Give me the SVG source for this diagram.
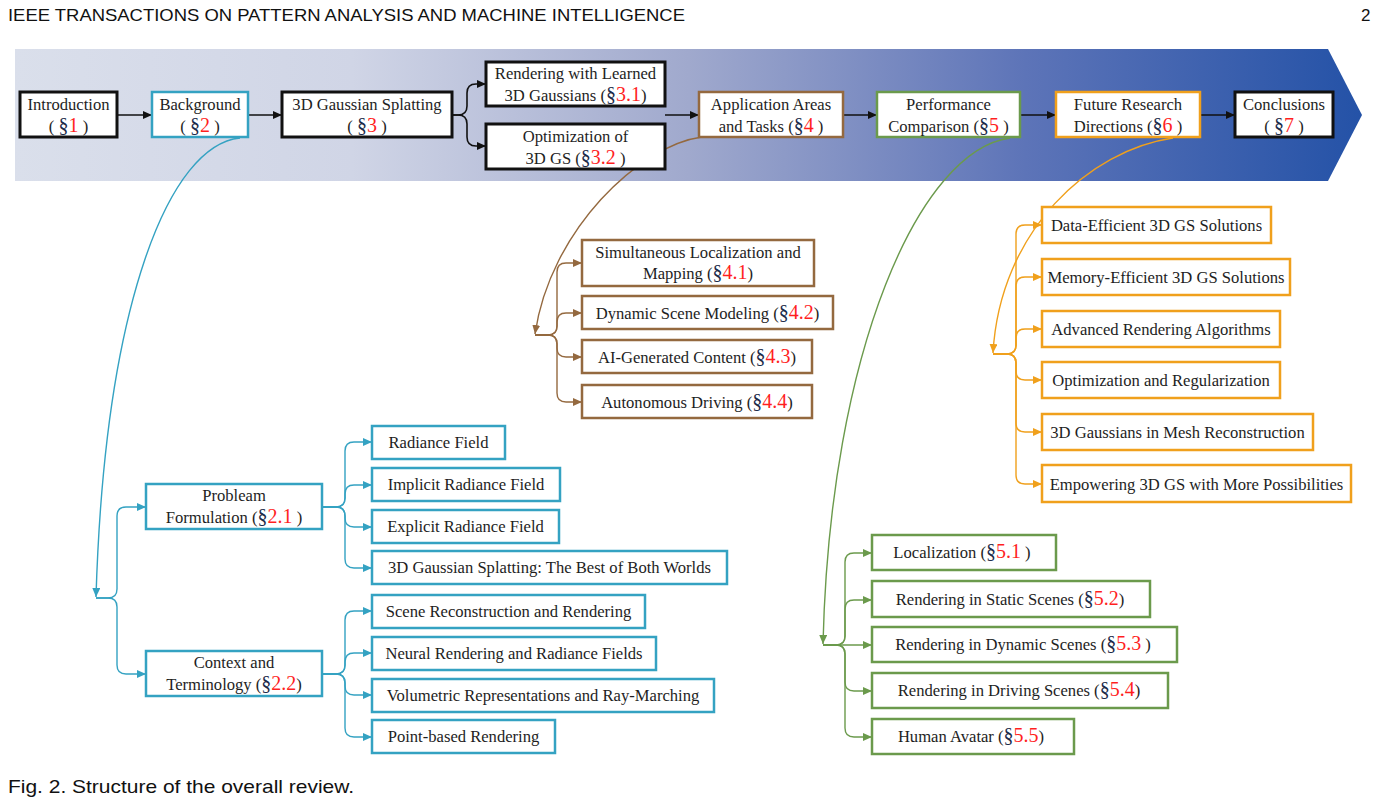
<svg xmlns="http://www.w3.org/2000/svg" width="1379" height="810" viewBox="0 0 1379 810">
<style>
.hd{font-family:"Liberation Sans",Arial,sans-serif;font-size:17px;fill:#111}
.t{font-family:"Liberation Serif","Times New Roman",serif;font-size:16.6px;fill:#1e1e1e;text-anchor:middle}
.s{font-size:20px;fill:#1c2b4a}
.n{font-size:20px;fill:#ff1f1f}
.bk{fill:#fff;stroke:#111;stroke-width:3}
.tl{fill:#fff;stroke:#34a2c2;stroke-width:2.5}
.brb{fill:#fff;stroke:#94693f;stroke-width:2.5}
.grb{fill:#fff;stroke:#6b9a4c;stroke-width:2.5}
.orb{fill:#fff;stroke:#f0a01c;stroke-width:2.5}
.c{fill:none;stroke-width:1.4}
.ck{stroke:#111;stroke-width:1.6}
.ctl{stroke:#34a2c2}
.cbr{stroke:#94693f}
.cgr{stroke:#6b9a4c}
.cor{stroke:#f0a01c}
</style>
<defs>
<linearGradient id="bg" gradientUnits="userSpaceOnUse" x1="15" y1="0" x2="1362" y2="0">
<stop offset="0" stop-color="#dadfeb"/>
<stop offset="0.25" stop-color="#d0d5e6"/>
<stop offset="0.5" stop-color="#a0a9cd"/>
<stop offset="0.75" stop-color="#5d74b8"/>
<stop offset="1" stop-color="#2452a7"/>
</linearGradient>
<marker id="ak" markerUnits="userSpaceOnUse" markerWidth="10" markerHeight="9" refX="9" refY="4" orient="auto"><path d="M0,0 L9,4 L0,8 z" fill="#111"/></marker>
<marker id="atl" markerUnits="userSpaceOnUse" markerWidth="10" markerHeight="9" refX="9" refY="4" orient="auto"><path d="M0,0 L9,4 L0,8 z" fill="#34a2c2"/></marker>
<marker id="abr" markerUnits="userSpaceOnUse" markerWidth="10" markerHeight="9" refX="9" refY="4" orient="auto"><path d="M0,0 L9,4 L0,8 z" fill="#94693f"/></marker>
<marker id="agr" markerUnits="userSpaceOnUse" markerWidth="10" markerHeight="9" refX="9" refY="4" orient="auto"><path d="M0,0 L9,4 L0,8 z" fill="#6b9a4c"/></marker>
<marker id="aor" markerUnits="userSpaceOnUse" markerWidth="10" markerHeight="9" refX="9" refY="4" orient="auto"><path d="M0,0 L9,4 L0,8 z" fill="#f0a01c"/></marker>
</defs>
<rect x="0" y="0" width="1379" height="810" fill="#fff"/>
<text class="hd" x="8" y="21" textLength="677" lengthAdjust="spacingAndGlyphs">IEEE TRANSACTIONS ON PATTERN ANALYSIS AND MACHINE INTELLIGENCE</text>
<text class="hd" x="1361" y="21">2</text>
<path id="banner" d="M15,49 H1328 L1362,115 L1328,181 H15 Z" fill="url(#bg)"/>

<g id="connectors">
<path class="c ck" d="M117,115 H152" marker-end="url(#ak)"/>
<path class="c ck" d="M248,115 H282" marker-end="url(#ak)"/>
<path class="c ck" d="M452,115 H458 Q467,115 467,106 V93 Q467,84 476,84 H486" marker-end="url(#ak)"/>
<path class="c ck" d="M452,115 H458 Q467,115 467,124 V137 Q467,146 476,146 H486" marker-end="url(#ak)"/>
<path class="c ck" d="M665,115 H699" marker-end="url(#ak)"/>
<path class="c ck" d="M843,115 H877" marker-end="url(#ak)"/>
<path class="c ck" d="M1020,115 H1056" marker-end="url(#ak)"/>
<path class="c ck" d="M1200,115 H1235" marker-end="url(#ak)"/>

<path class="c ctl" d="M240,138 C170,145 105,300 96,597" marker-end="url(#atl)"/>
<path class="c ctl" d="M96,598 H108 Q117,598 117,589 V516 Q117,507 126,507 H146" marker-end="url(#atl)"/>
<path class="c ctl" d="M96,598 H108 Q117,598 117,607 V665 Q117,674 126,674 H146" marker-end="url(#atl)"/>
<path class="c ctl" d="M322,507 H336 Q345,507 345,498 V451 Q345,442 354,442 H372" marker-end="url(#atl)"/>
<path class="c ctl" d="M322,507 H336 Q345,507 345,498 V494 Q345,485 354,485 H372" marker-end="url(#atl)"/>
<path class="c ctl" d="M322,507 H336 Q345,507 345,516 V518 Q345,527 354,527 H372" marker-end="url(#atl)"/>
<path class="c ctl" d="M322,507 H336 Q345,507 345,516 V559 Q345,568 354,568 H372" marker-end="url(#atl)"/>
<path class="c ctl" d="M322,674 H336 Q345,674 345,665 V620 Q345,611 354,611 H372" marker-end="url(#atl)"/>
<path class="c ctl" d="M322,674 H336 Q345,674 345,665 V662 Q345,653 354,653 H372" marker-end="url(#atl)"/>
<path class="c ctl" d="M322,674 H336 Q345,674 345,683 V686 Q345,695 354,695 H372" marker-end="url(#atl)"/>
<path class="c ctl" d="M322,674 H336 Q345,674 345,683 V728 Q345,737 354,737 H372" marker-end="url(#atl)"/>

<path class="c cbr" d="M702,137 C640,145 550,230 535,334" marker-end="url(#abr)"/>
<path class="c cbr" d="M535,335 H548 Q557,335 557,326 V272 Q557,263 566,263 H582" marker-end="url(#abr)"/>
<path class="c cbr" d="M535,335 H548 Q557,335 557,326 V322 Q557,313 566,313 H582" marker-end="url(#abr)"/>
<path class="c cbr" d="M535,335 H548 Q557,335 557,344 V348 Q557,357 566,357 H582" marker-end="url(#abr)"/>
<path class="c cbr" d="M535,335 H548 Q557,335 557,344 V393 Q557,402 566,402 H582" marker-end="url(#abr)"/>

<path class="c cgr" d="M1010,138 C920,150 830,350 823,644" marker-end="url(#agr)"/>
<path class="c cgr" d="M823,645 H836 Q845,645 845,636 V562 Q845,553 854,553 H872" marker-end="url(#agr)"/>
<path class="c cgr" d="M823,645 H836 Q845,645 845,636 V609 Q845,600 854,600 H872" marker-end="url(#agr)"/>
<path class="c cgr" d="M823,645 H872" marker-end="url(#agr)"/>
<path class="c cgr" d="M823,645 H836 Q845,645 845,654 V682 Q845,691 854,691 H872" marker-end="url(#agr)"/>
<path class="c cgr" d="M823,645 H836 Q845,645 845,654 V728 Q845,737 854,737 H872" marker-end="url(#agr)"/>

<path class="c cor" d="M1173,138 C1090,150 1000,230 993,353" marker-end="url(#aor)"/>
<path class="c cor" d="M993,354 H1007 Q1016,354 1016,345 V234 Q1016,225 1025,225 H1042" marker-end="url(#aor)"/>
<path class="c cor" d="M993,354 H1007 Q1016,354 1016,345 V286 Q1016,277 1025,277 H1042" marker-end="url(#aor)"/>
<path class="c cor" d="M993,354 H1007 Q1016,354 1016,345 V338 Q1016,329 1025,329 H1042" marker-end="url(#aor)"/>
<path class="c cor" d="M993,354 H1007 Q1016,354 1016,363 V371 Q1016,380 1025,380 H1042" marker-end="url(#aor)"/>
<path class="c cor" d="M993,354 H1007 Q1016,354 1016,363 V423 Q1016,432 1025,432 H1042" marker-end="url(#aor)"/>
<path class="c cor" d="M993,354 H1007 Q1016,354 1016,363 V475 Q1016,484 1025,484 H1042" marker-end="url(#aor)"/>
</g>

<g id="n-intro"><rect class="bk" x="20" y="92" width="97" height="45"/>
<text class="t" x="68.5" y="110">Introduction</text>
<text class="t" x="68.5" y="132">( <tspan class="s">§</tspan><tspan class="n">1</tspan> )</text></g>
<g id="n-bg"><rect class="tl" x="152" y="92" width="96" height="45"/>
<text class="t" x="200" y="110">Background</text>
<text class="t" x="200" y="132">( <tspan class="s">§</tspan><tspan class="n">2</tspan> )</text></g>
<g id="n-3dgs"><rect class="bk" x="282" y="92" width="170" height="45"/>
<text class="t" x="367" y="110">3D Gaussian Splatting</text>
<text class="t" x="367" y="132">( <tspan class="s">§</tspan><tspan class="n">3</tspan> )</text></g>
<g id="n-31"><rect class="bk" x="486" y="62" width="179" height="44"/>
<text class="t" x="575.5" y="79">Rendering with Learned</text>
<text class="t" x="575.5" y="101">3D Gaussians (<tspan class="s">§</tspan><tspan class="n">3.1</tspan>)</text></g>
<g id="n-32"><rect class="bk" x="486" y="124" width="179" height="45"/>
<text class="t" x="575.5" y="142">Optimization of</text>
<text class="t" x="575.5" y="164">3D GS (<tspan class="s">§</tspan><tspan class="n">3.2</tspan> )</text></g>
<g id="n-4"><rect class="brb" x="699" y="92" width="144" height="45"/>
<text class="t" x="771" y="110">Application Areas</text>
<text class="t" x="771" y="132">and Tasks (<tspan class="s">§</tspan><tspan class="n">4</tspan> )</text></g>
<g id="n-5"><rect class="grb" x="877" y="92" width="143" height="45"/>
<text class="t" x="948.5" y="110">Performance</text>
<text class="t" x="948.5" y="132">Comparison (<tspan class="s">§</tspan><tspan class="n">5</tspan> )</text></g>
<g id="n-6"><rect class="orb" x="1056" y="92" width="144" height="45"/>
<text class="t" x="1128" y="110">Future Research</text>
<text class="t" x="1128" y="132">Directions (<tspan class="s">§</tspan><tspan class="n">6</tspan> )</text></g>
<g id="n-7"><rect class="bk" x="1235" y="92" width="98" height="45"/>
<text class="t" x="1284" y="110">Conclusions</text>
<text class="t" x="1284" y="132">( <tspan class="s">§</tspan><tspan class="n">7</tspan> )</text></g>

<g id="n-21"><rect class="tl" x="146" y="484" width="176" height="45"/>
<text class="t" x="234" y="501">Probleam</text>
<text class="t" x="234" y="523">Formulation  (<tspan class="s">§</tspan><tspan class="n">2.1</tspan> )</text></g>
<g id="n-22"><rect class="tl" x="146" y="651" width="176" height="45"/>
<text class="t" x="234" y="668">Context and</text>
<text class="t" x="234" y="690">Terminology  (<tspan class="s">§</tspan><tspan class="n">2.2</tspan>)</text></g>
<g id="n-rf"><rect class="tl" x="372" y="426" width="133" height="33"/><text class="t" x="438.5" y="448">Radiance Field</text></g>
<g id="n-irf"><rect class="tl" x="372" y="468" width="188" height="33"/><text class="t" x="466" y="490">Implicit Radiance Field</text></g>
<g id="n-erf"><rect class="tl" x="372" y="510" width="187" height="33"/><text class="t" x="465.5" y="532">Explicit Radiance Field</text></g>
<g id="n-best"><rect class="tl" x="372" y="551" width="355" height="33"/><text class="t" x="549.5" y="573">3D Gaussian Splatting: The Best of Both Worlds</text></g>
<g id="n-srr"><rect class="tl" x="372" y="595" width="273" height="33"/><text class="t" x="508.5" y="617">Scene Reconstruction and Rendering</text></g>
<g id="n-nrrf"><rect class="tl" x="372" y="637" width="284" height="33"/><text class="t" x="514" y="659">Neural Rendering and Radiance Fields</text></g>
<g id="n-vr"><rect class="tl" x="372" y="679" width="342" height="33"/><text class="t" x="543" y="701">Volumetric Representations and Ray-Marching</text></g>
<g id="n-pbr"><rect class="tl" x="372" y="720" width="183" height="33"/><text class="t" x="463.5" y="742">Point-based Rendering</text></g>

<g id="n-41"><rect class="brb" x="582" y="240" width="232" height="46"/>
<text class="t" x="698" y="258">Simultaneous Localization and</text>
<text class="t" x="698" y="279">Mapping  (<tspan class="s">§</tspan><tspan class="n">4.1</tspan>)</text></g>
<g id="n-42"><rect class="brb" x="582" y="296" width="251" height="33"/><text class="t" x="707.5" y="319">Dynamic Scene Modeling (<tspan class="s">§</tspan><tspan class="n">4.2</tspan>)</text></g>
<g id="n-43"><rect class="brb" x="582" y="340" width="230" height="33"/><text class="t" x="697" y="363">AI-Generated Content (<tspan class="s">§</tspan><tspan class="n">4.3</tspan>)</text></g>
<g id="n-44"><rect class="brb" x="582" y="385" width="230" height="33"/><text class="t" x="697" y="408">Autonomous Driving  (<tspan class="s">§</tspan><tspan class="n">4.4</tspan>)</text></g>

<g id="n-51"><rect class="grb" x="872" y="535" width="184" height="35"/><text class="t" x="962" y="558">Localization  (<tspan class="s">§</tspan><tspan class="n">5.1</tspan> )</text></g>
<g id="n-52"><rect class="grb" x="872" y="581" width="278" height="36"/><text class="t" x="1010" y="605">Rendering in Static Scenes  (<tspan class="s">§</tspan><tspan class="n">5.2</tspan>)</text></g>
<g id="n-53"><rect class="grb" x="872" y="627" width="305" height="35"/><text class="t" x="1023" y="650">Rendering in Dynamic Scenes  (<tspan class="s">§</tspan><tspan class="n">5.3</tspan> )</text></g>
<g id="n-54"><rect class="grb" x="872" y="673" width="296" height="35"/><text class="t" x="1019" y="696">Rendering in Driving Scenes  (<tspan class="s">§</tspan><tspan class="n">5.4</tspan>)</text></g>
<g id="n-55"><rect class="grb" x="872" y="719" width="202" height="35"/><text class="t" x="971" y="742">Human Avatar  (<tspan class="s">§</tspan><tspan class="n">5.5</tspan>)</text></g>

<g id="n-61"><rect class="orb" x="1042" y="207" width="229" height="36"/><text class="t" x="1156.5" y="231">Data-Efficient 3D GS Solutions</text></g>
<g id="n-62"><rect class="orb" x="1042" y="259" width="248" height="36"/><text class="t" x="1166" y="283">Memory-Efficient 3D GS Solutions</text></g>
<g id="n-63"><rect class="orb" x="1042" y="311" width="238" height="36"/><text class="t" x="1161" y="335">Advanced Rendering Algorithms</text></g>
<g id="n-64"><rect class="orb" x="1042" y="362" width="238" height="36"/><text class="t" x="1161" y="386">Optimization and Regularization</text></g>
<g id="n-65"><rect class="orb" x="1042" y="414" width="271" height="36"/><text class="t" x="1177.5" y="438">3D Gaussians in Mesh Reconstruction</text></g>
<g id="n-66"><rect class="orb" x="1042" y="465" width="309" height="37"/><text class="t" x="1196.5" y="490">Empowering 3D GS with More Possibilities</text></g>

<text class="hd" x="8" y="793" style="font-size:19px" textLength="346" lengthAdjust="spacingAndGlyphs">Fig. 2. Structure of the overall review.</text>
</svg>
